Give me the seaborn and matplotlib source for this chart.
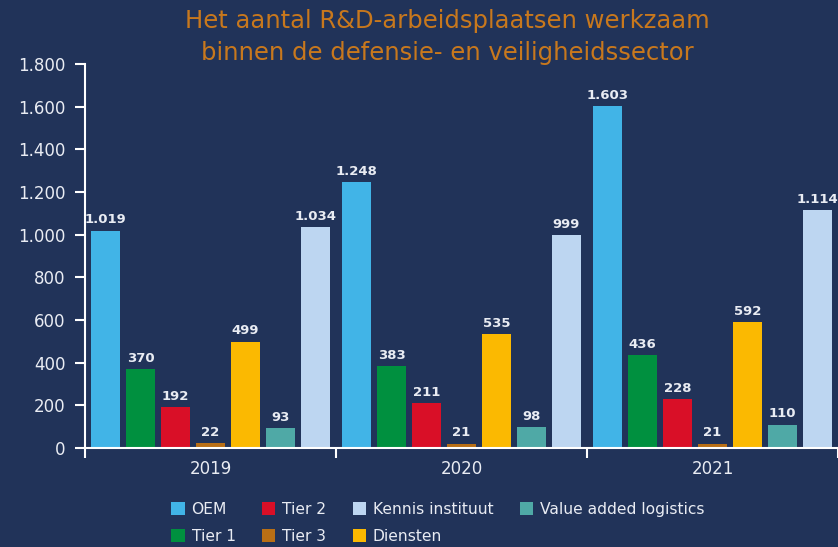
import matplotlib
matplotlib.use("Agg")
import matplotlib.pyplot as plt
from matplotlib.patches import Patch
import pandas as pd
import seaborn as sns

# Data: R&D jobs in the defence and security sector
years = ["2019", "2020", "2021"]
categories = ["OEM", "Tier 1", "Tier 2", "Tier 3", "Diensten",
              "Value added logistics", "Kennis instituut"]
oem = [1019, 1248, 1603]
tier1 = [370, 383, 436]
tier2 = [192, 211, 228]
tier3 = [22, 21, 21]
diensten = [499, 535, 592]
val_logistics = [93, 98, 110]
kennis = [1034, 999, 1114]
yticks = [0, 200, 400, 600, 800, 1000, 1200, 1400, 1600, 1800]

colors = {
    "OEM": "#41b4e7",
    "Tier 1": "#00903f",
    "Tier 2": "#d90f27",
    "Tier 3": "#b96f15",
    "Diensten": "#fbb901",
    "Value added logistics": "#4fa9a6",
    "Kennis instituut": "#bdd6f1",
}
legend_order = ["OEM", "Tier 1", "Tier 2", "Tier 3", "Kennis instituut",
                "Diensten", "Value added logistics"]

series = [oem, tier1, tier2, tier3, diensten, val_logistics, kennis]
rows = []
for cat, vals in zip(categories, series):
    for yr, v in zip(years, vals):
        rows.append({"Jaar": yr, "Categorie": cat, "Aantal": v})
df = pd.DataFrame(rows)

bg = "#213359"
fg = "#e9ecf3"
title_color = "#c8781d"

sns.set_style("ticks")
plt.rcParams["font.family"] = ["DejaVu Sans"]

def nl(v):
    return f"{v:,.0f}".replace(",", ".")

fig = plt.figure(figsize=(8.38, 5.47), dpi=100, facecolor=bg)
ax = fig.add_axes([85 / 838, 99 / 547, 753 / 838, 384 / 547])
ax.set_facecolor(bg)

sns.barplot(data=df, x="Jaar", y="Aantal", hue="Categorie",
            order=years, hue_order=categories, palette=colors,
            width=0.975, gap=0.15, saturation=1, linewidth=0,
            legend=False, ax=ax)

for cont in ax.containers:
    ax.bar_label(cont, fmt=nl, padding=3, color=fg, fontsize=9.5,
                 fontweight="bold")

ax.set_xlim(-0.5, 2.5)
ax.set_ylim(0, 1800)
ax.set_yticks(yticks)
ax.set_yticklabels([nl(t) for t in yticks])
ax.set_xticks([-0.5, 0.5, 1.5, 2.5])
ax.set_xticklabels([])
ax.set_xticks([0, 1, 2], minor=True)
ax.set_xticklabels(years, minor=True)
ax.set_xlabel("")
ax.set_ylabel("")

ax.tick_params(axis="both", which="major", color="white", length=7,
               width=1.5, labelcolor=fg, labelsize=12)
ax.tick_params(axis="y", pad=7)
ax.tick_params(axis="x", which="minor", length=0, pad=9,
               labelcolor=fg, labelsize=12)

for side in ("top", "right"):
    ax.spines[side].set_visible(False)
for side in ("left", "bottom"):
    ax.spines[side].set_color("white")
    ax.spines[side].set_linewidth(1.5)

fig.text(447 / 838, 1 - 37 / 547,
         "Het aantal R&D-arbeidsplaatsen werkzaam\nbinnen de defensie- en veiligheidssector",
         ha="center", va="center", color=title_color, fontsize=17.5,
         linespacing=1.4)

handles = [Patch(facecolor=colors[c], edgecolor="none", label=c)
           for c in legend_order]
fig.legend(handles=handles, loc="center", ncol=4,
           bbox_to_anchor=(438 / 838, 1 - 523 / 547), frameon=False,
           fontsize=11.2, labelcolor=fg, handlelength=0.85, handleheight=0.85,
           handletextpad=0.45, columnspacing=1.7, labelspacing=0.78,
           borderpad=0)

fig.savefig("out.png", dpi=100, facecolor=bg)
